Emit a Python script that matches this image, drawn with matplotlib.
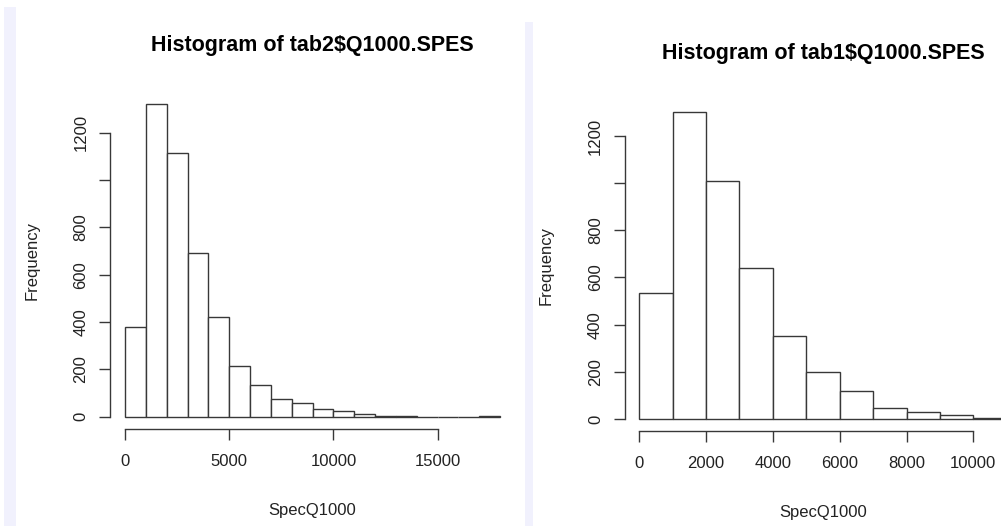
import numpy as np
import matplotlib
matplotlib.use("Agg")
import matplotlib.pyplot as plt
from matplotlib.patches import Rectangle

plt.rcParams['font.family'] = ['Liberation Sans', 'DejaVu Sans']

# ---- data ----
left_title = "Histogram of tab2$Q1000.SPES"
right_title = "Histogram of tab1$Q1000.SPES"
xlabel = "SpecQ1000"
ylabel = "Frequency"

bin_width = 1000
left_counts = [379, 1321, 1115, 692, 423, 215, 135, 76, 59, 34, 24, 10, 3, 2, 0, 0, 0, 3]
right_counts = [533, 1303, 1011, 639, 351, 199, 119, 47, 28, 19, 6]

left_xticks = [0, 5000, 10000, 15000]
right_xticks = [0, 2000, 4000, 6000, 8000, 10000]
yticks = [0, 200, 400, 600, 800, 1000, 1200]
ytick_labels = ["0", "200", "400", "600", "800", "", "1200"]

W, H = 1001, 526
fig = plt.figure(figsize=(W / 100, H / 100), dpi=100)
fig.patch.set_facecolor('white')

# lavender strips (screenshot borders)
strip_color = '#f1f1fd'
fig.add_artist(Rectangle((4 / W, 0), 12 / W, (H - 7) / H, transform=fig.transFigure,
                         facecolor=strip_color, edgecolor='none'))
fig.add_artist(Rectangle((525 / W, 0), 8 / W, (H - 22) / H, transform=fig.transFigure,
                         facecolor=strip_color, edgecolor='none'))

line_col = '#383838'


def make_hist(px_left, px_right, px_top, px_bottom, counts, xticks, title):
    ax = fig.add_axes([px_left / W, (H - px_bottom) / H,
                       (px_right - px_left) / W, (px_bottom - px_top) / H])
    ax.set_facecolor('none')
    n = len(counts)
    edges = np.arange(n + 1) * bin_width
    ax.bar(edges[:-1], counts, width=bin_width, align='edge',
           facecolor='white', edgecolor=line_col, linewidth=1.0)
    xmax = edges[-1]
    ymax = max(counts)
    ax.set_xlim(-0.04 * xmax, xmax * 1.04)
    ax.set_ylim(-0.04 * ymax, ymax * 1.04)
    for s in ['top', 'right']:
        ax.spines[s].set_visible(False)
    for s in ['left', 'bottom']:
        ax.spines[s].set_color(line_col)
        ax.spines[s].set_linewidth(1.0)
    ax.spines['left'].set_bounds(yticks[0], yticks[-1])
    ax.spines['bottom'].set_bounds(xticks[0], xticks[-1])
    ax.set_xticks(xticks)
    ax.set_xticklabels([str(t) for t in xticks])
    ax.set_yticks(yticks)
    ax.set_yticklabels(ytick_labels, rotation=90, va='center')
    ax.tick_params(axis='both', direction='out', length=7.6, width=1.0,
                   color=line_col, labelsize=12, labelcolor='#222222')
    ax.tick_params(axis='x', pad=10.5)
    ax.tick_params(axis='y', pad=8.0)
    # axis titles
    cx = (px_left + px_right) / 2
    fig.text(cx / W, (H - (px_bottom + 81)) / H, xlabel, ha='center', va='center',
             fontsize=12, color='#222222')
    fig.text((px_left - 78) / W, (H - (px_top + px_bottom) / 2) / H, ylabel,
             rotation=90, ha='center', va='center', fontsize=12, color='#222222')
    fig.text(cx / W, (H - (px_top - 46)) / H, title, ha='center', va='center',
             fontsize=15.5, fontweight='bold', color='black')
    return ax


make_hist(110, 515.1, 91.7, 429.2, left_counts, left_xticks, left_title)
make_hist(624.6, 1021.4, 99.4, 431.3, right_counts, right_xticks, right_title)

fig.savefig("out.png", dpi=100)
